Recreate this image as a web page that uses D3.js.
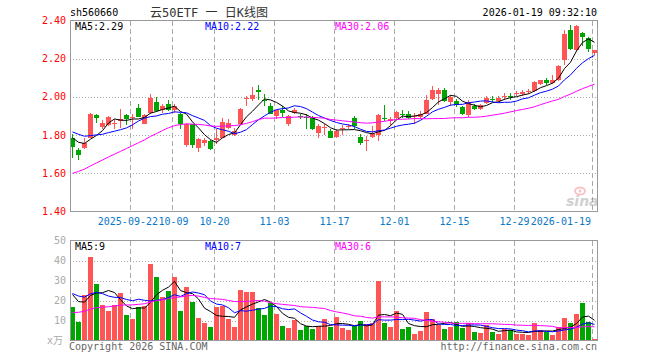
<!DOCTYPE html>
<html>
<head>
<meta charset="utf-8">
<script src="https://cdn.jsdelivr.net/npm/d3@7"></script>
<style>
body { margin: 0; background: #fff; }
text { font-family: "DejaVu Sans Mono", "Liberation Mono", monospace; font-size: 10px; }
</style>
</head>
<body>
<svg width="660" height="360"></svg>
<script>
// daily K data, 2025-09-08 .. 2026-01-19 (88 sessions)
var opens  = [1.783,1.720,1.730,1.786,1.906,1.843,1.852,1.856,1.873,1.903,1.890,1.941,1.859,1.917,1.972,1.929,1.963,1.930,1.911,1.746,
              1.856,1.734,1.757,1.769,1.774,1.786,1.838,1.803,1.859,1.990,1.991,2.038,1.984,1.951,1.899,1.930,1.856,1.917,1.899,1.894,
              1.890,1.812,1.838,1.824,1.790,1.833,1.843,1.890,1.791,1.769,1.790,1.803,1.887,1.873,1.890,1.913,1.911,1.894,1.894,1.911,
              1.991,2.016,2.038,1.974,1.981,1.946,1.904,1.951,1.939,1.968,1.989,1.979,2.000,2.007,2.014,2.014,2.024,2.031,2.066,2.090,
              2.073,2.087,2.191,2.351,2.247,2.334,2.309,2.229];
var highs  = [1.807,1.730,1.786,1.916,1.913,1.878,1.901,1.885,1.937,1.913,1.908,1.965,1.911,2.017,1.998,1.963,1.984,1.965,1.917,1.862,
              1.860,1.786,1.786,1.774,1.830,1.890,1.885,1.838,1.943,2.003,2.052,2.061,2.017,1.969,1.934,1.951,1.904,1.943,1.913,1.911,
              1.899,1.856,1.856,1.830,1.833,1.852,1.859,1.899,1.807,1.795,1.847,1.908,1.955,1.894,1.925,1.929,1.925,1.917,1.925,2.009,
              2.056,2.047,2.047,2.012,1.991,1.951,1.982,1.965,1.965,2.003,2.003,2.003,2.021,2.021,2.031,2.035,2.043,2.083,2.090,2.100,
              2.113,2.167,2.348,2.374,2.374,2.339,2.313,2.247];
var lows   = [1.682,1.668,1.725,1.783,1.861,1.830,1.847,1.830,1.838,1.852,1.830,1.894,1.856,1.911,1.922,1.918,1.925,1.915,1.830,1.740,
              1.730,1.713,1.743,1.720,1.751,1.783,1.830,1.795,1.856,1.951,1.977,1.986,1.951,1.908,1.882,1.894,1.847,1.911,1.882,1.830,
              1.825,1.786,1.803,1.783,1.786,1.803,1.830,1.830,1.748,1.717,1.786,1.769,1.873,1.847,1.882,1.890,1.882,1.856,1.882,1.908,
              1.986,1.960,1.974,1.951,1.946,1.904,1.895,1.933,1.933,1.965,1.972,1.972,1.986,1.986,2.003,2.007,2.017,2.028,2.061,2.061,
              2.066,2.083,2.165,2.243,2.240,2.269,2.235,2.217];
var closes = [1.737,1.696,1.757,1.913,1.889,1.861,1.896,1.864,1.882,1.882,1.897,1.897,1.904,1.995,1.925,1.951,1.934,1.951,1.856,1.859,
              1.746,1.777,1.774,1.725,1.786,1.868,1.861,1.820,1.936,1.995,2.012,2.026,1.977,1.911,1.929,1.917,1.899,1.934,1.894,1.887,
              1.830,1.847,1.843,1.786,1.824,1.838,1.849,1.847,1.757,1.774,1.807,1.903,1.882,1.882,1.922,1.908,1.890,1.899,1.908,1.986,
              2.038,2.038,1.981,1.998,1.960,1.911,1.974,1.939,1.956,1.996,1.984,1.996,2.005,2.000,2.021,2.026,2.029,2.078,2.087,2.075,
              2.090,2.160,2.330,2.252,2.370,2.313,2.252,2.243];
// volume, unit: 万
var volumes = [16.7,9.2,22.7,41.7,28.2,17.7,14.7,17.7,23.7,12.7,10.7,16.7,17.2,38.2,31.7,21.7,24.7,31.7,15.0,26.7,
               19.2,11.2,8.7,6.7,16.7,17.2,10.7,6.7,25.2,24.2,24.2,16.2,12.7,18.7,13.2,7.2,6.2,10.2,5.2,7.2,
               5.7,7.2,10.7,6.7,11.7,6.2,5.2,7.2,9.7,8.2,8.7,29.7,8.7,6.7,14.7,5.7,6.7,3.2,4.7,14.2,
               10.7,7.7,5.7,6.7,9.2,6.2,8.7,4.2,3.7,7.7,4.2,3.2,5.7,5.2,3.2,3.2,2.7,8.7,5.2,4.2,
               2.7,6.7,11.2,8.7,13.2,18.7,9.2,0.7];

// sessions before the visible window, only used for the moving averages
var prevCloses  = [1.40,1.39,1.41,1.42,1.40,1.43,1.42,1.44,1.43,1.45,1.44,1.46,1.45,1.47,1.48,1.50,
                   1.62,1.68,1.75,1.79,1.82,1.86,1.88,1.85,1.83,1.81,1.79,1.80,1.79];
var prevVolumes = [6,8,7,9,10,8,7,9,11,10,8,9,12,10,9,11,10,9,11,11,
                   22,28,25,21,24,27,24,25,22.3];

var tickIdx    = [10, 17, 24, 34, 44, 54, 64, 74, 87];
var tickLabels = ["2025-09-22","10-09","10-20","11-03","11-17","12-01","12-15","12-29","2026-01-19"];
var priceTicks = [1.40, 1.60, 1.80, 2.00, 2.20, 2.40];
var volTicks   = [10, 20, 30, 40, 50];
var priceLegend = ["MA5:2.29", "MA10:2.22", "MA30:2.06"];
var volLegend   = ["MA5:9", "MA10:7", "MA30:6"];
var maDays   = [5, 10, 30];
var maColors = ["#000", "#00f", "#f0f"];

var RED = "#ff5555", GREEN = "#00a600";

var svg = d3.select("svg");
var left = 70, right = 598;

var x = d3.scaleBand()
    .domain(d3.range(closes.length))
    .range([left, right]);

var y = d3.scaleLinear().domain([1.40, 2.40]).range([211.5, 20.5]);
var yv = d3.scaleLinear().domain([0, 50]).range([340.5, 240.5]);

function movingAvg(prev, vals, n) {
    var all = prev.concat(vals);
    return vals.map(function(d, i) {
        var k = i + prev.length;
        return d3.mean(all.slice(k - n + 1, k + 1));
    });
}

function isUp(i) { return closes[i] >= opens[i]; }

// ---------- header ----------
svg.append("text").attr("x", 70).attr("y", 16).attr("fill", "#000").text("sh560660");
svg.append("text").attr("x", 209).attr("y", 17).attr("text-anchor", "middle")
    .attr("fill", "#333").style("font-size", "12px")
    .style("font-family", "'DejaVu Sans Mono', 'Noto Sans CJK SC', monospace")
    .text("云50ETF 一 日K线图");
svg.append("text").attr("x", 597).attr("y", 16).attr("text-anchor", "end")
    .attr("fill", "#000").text("2026-01-19 09:32:10");

// ---------- grids ----------
function panelGrid(yScale, ticks, top, bottom) {
    var g = svg.append("g").attr("shape-rendering", "crispEdges");
    g.selectAll("line.h").data(ticks).enter().append("line")
        .attr("x1", left).attr("x2", right)
        .attr("y1", function(d) { return Math.round(yScale(d)) + 0.5; })
        .attr("y2", function(d) { return Math.round(yScale(d)) + 0.5; })
        .attr("stroke", "#aaa").attr("stroke-dasharray", "1,2");
    g.selectAll("line.v").data(tickIdx).enter().append("line")
        .attr("x1", function(d) { return x(d) + 0.5; })
        .attr("x2", function(d) { return x(d) + 0.5; })
        .attr("y1", top).attr("y2", bottom)
        .attr("stroke", "#aaa").attr("stroke-dasharray", "5,3");
}
panelGrid(y, [1.60, 1.80, 2.00, 2.20], 20.5, 211.5);
panelGrid(yv, [10, 20, 30, 40], 240.5, 340.5);

// sina watermark
var wm = svg.append("g").attr("opacity", 0.45);
wm.append("ellipse").attr("cx", 580).attr("cy", 191).attr("rx", 5).attr("ry", 3.5)
    .attr("fill", "none").attr("stroke", "#f08080").attr("stroke-width", 2);
wm.append("circle").attr("cx", 580).attr("cy", 191).attr("r", 1.5).attr("fill", "#f08080");
wm.append("text").attr("x", 566).attr("y", 206).attr("fill", "#999")
    .style("font-family", "'DejaVu Sans', sans-serif").style("font-size", "14px")
    .style("font-weight", "bold").style("font-style", "italic").text("sina");

// ---------- candles ----------
var cg = svg.append("g").attr("shape-rendering", "crispEdges");
cg.selectAll("rect.wick").data(closes).enter().append("rect")
    .attr("x", function(d, i) { return x(i) + 2; })
    .attr("width", 1)
    .attr("y", function(d, i) { return y(highs[i]); })
    .attr("height", function(d, i) { return Math.max(1, y(lows[i]) - y(highs[i])); })
    .attr("fill", function(d, i) { return isUp(i) ? RED : GREEN; });
cg.selectAll("rect.body").data(closes).enter().append("rect")
    .attr("x", function(d, i) { return x(i); })
    .attr("width", 5)
    .attr("y", function(d, i) { return y(Math.max(opens[i], closes[i])); })
    .attr("height", function(d, i) { return Math.max(1, Math.abs(y(opens[i]) - y(closes[i]))); })
    .attr("fill", function(d, i) { return isUp(i) ? RED : GREEN; });

// ---------- volume bars ----------
svg.append("g").attr("shape-rendering", "crispEdges")
    .selectAll("rect").data(volumes).enter().append("rect")
    .attr("x", function(d, i) { return x(i); })
    .attr("width", 5)
    .attr("y", function(d) { return yv(d); })
    .attr("height", function(d) { return yv(0) - yv(d); })
    .attr("fill", function(d, i) { return isUp(i) ? RED : GREEN; });

// ---------- moving averages ----------
function drawMA(prev, vals, yScale) {
    maDays.forEach(function(n, k) {
        var m = movingAvg(prev, vals, n);
        svg.append("path")
            .datum(m)
            .attr("fill", "none")
            .attr("stroke", maColors[k])
            .attr("stroke-width", 1)
            .attr("d", d3.line()
                .x(function(d, i) { return x(i) + 2.5; })
                .y(function(d) { return yScale(d); }));
    });
}
drawMA(prevCloses, closes, y);
drawMA(prevVolumes, volumes, yv);

// ---------- borders ----------
svg.append("rect").attr("x", 70.5).attr("y", 20.5).attr("width", 527).attr("height", 191)
    .attr("fill", "none").attr("stroke", "#999").attr("shape-rendering", "crispEdges");
svg.append("rect").attr("x", 70.5).attr("y", 240.5).attr("width", 527).attr("height", 100)
    .attr("fill", "none").attr("stroke", "#999").attr("shape-rendering", "crispEdges");

// ---------- axes labels ----------
svg.append("g").selectAll("text").data(priceTicks).enter().append("text")
    .attr("x", 66).attr("y", function(d) { return y(d); }).attr("dy", "0.35em")
    .attr("text-anchor", "end").attr("fill", "#f00")
    .text(function(d) { return d.toFixed(2); });

svg.append("g").selectAll("text").data(volTicks).enter().append("text")
    .attr("x", 66).attr("y", function(d) { return yv(d); }).attr("dy", "0.35em")
    .attr("text-anchor", "end").attr("fill", "#aaa")
    .text(function(d) { return d; });
svg.append("text").attr("x", 63).attr("y", 344).attr("text-anchor", "end")
    .attr("fill", "#aaa").style("font-family", "'DejaVu Sans Mono', 'Noto Sans CJK SC', monospace")
    .text("x万");

// first label ends where the second begins, last one is pulled inside the plot
var last = tickIdx.length - 1;
svg.append("g").selectAll("text").data(tickIdx).enter().append("text")
    .attr("x", function(d, i) {
        if (i == 0) return x(d) + 28;
        if (i == 1) return x(d) - 13.5;
        if (i == last) return x(d) - 1;
        return x(d) + 0.5;
    })
    .attr("y", 225)
    .attr("text-anchor", function(d, i) {
        if (i == 0 || i == last) return "end";
        if (i == 1) return "start";
        return "middle";
    })
    .attr("fill", "#0a78c8")
    .text(function(d, i) { return tickLabels[i]; });

// ---------- legends ----------
var legendX = [75, 205, 335];
priceLegend.forEach(function(t, k) {
    svg.append("text").attr("x", legendX[k]).attr("y", 30).attr("fill", maColors[k]).text(t);
});
volLegend.forEach(function(t, k) {
    svg.append("text").attr("x", legendX[k]).attr("y", 250).attr("fill", maColors[k]).text(t);
});

// ---------- footer ----------
svg.append("text").attr("x", 69).attr("y", 350).attr("fill", "#666").text("Copyright 2026 SINA.COM");
svg.append("text").attr("x", 597).attr("y", 350).attr("text-anchor", "end").attr("fill", "#666")
    .text("http://finance.sina.com.cn");
</script>
</body>
</html>
